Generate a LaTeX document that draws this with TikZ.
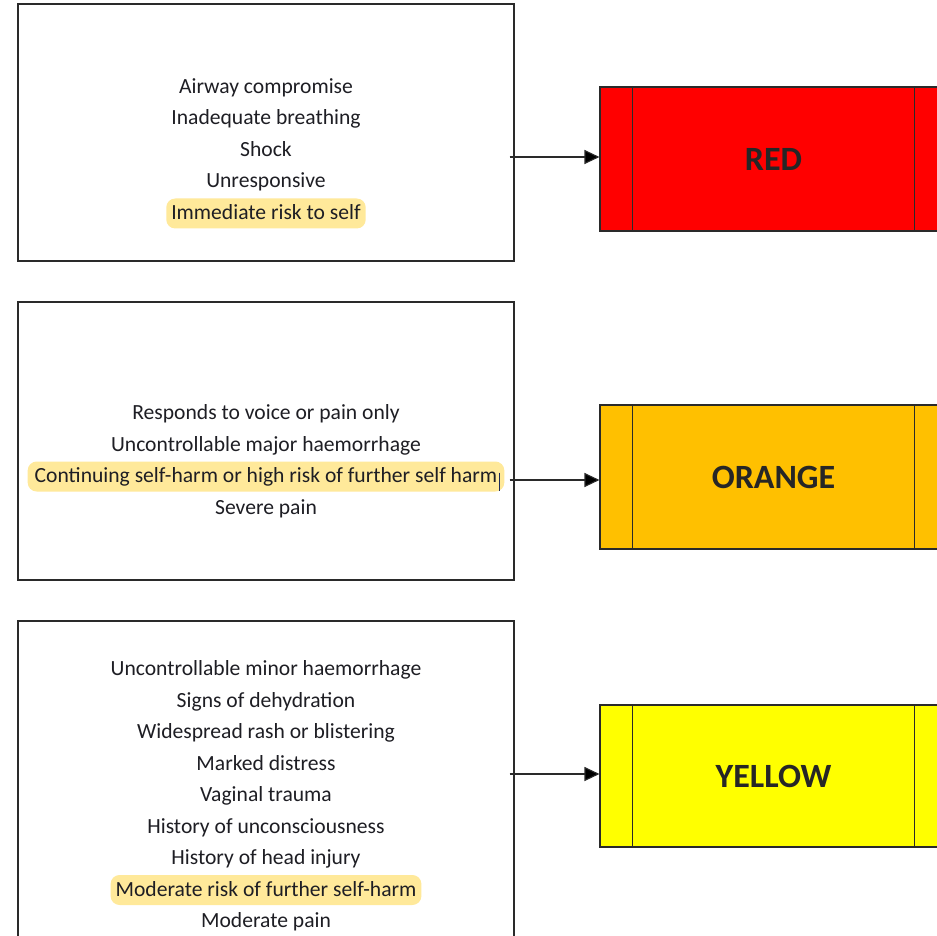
\documentclass[tikz,border=0pt]{standalone}
\usepackage{fontspec}
\setmainfont{Carlito}
\usetikzlibrary{arrows.meta}
\definecolor{txt}{HTML}{1E1E24}
\definecolor{lbl}{HTML}{262626}
\definecolor{boxline}{HTML}{2A2A2A}
\definecolor{hlc}{HTML}{FFE99A}
\definecolor{cred}{HTML}{FF0000}
\definecolor{corange}{HTML}{FFC000}
\definecolor{cyellow}{HTML}{FFFF00}
\definecolor{cursorc}{HTML}{1C2A5A}
\tikzset{
  critbox/.style={draw=boxline, line width=1.1pt, rectangle, minimum width=496pt, inner sep=0pt},
  levelbox/.style={draw=boxline, line width=1.1pt, rectangle, minimum width=347pt, inner sep=0pt,
    font=\bfseries\fontsize{34}{40}\selectfont, text=lbl},
  ln/.style={font=\fontsize{21.6}{26}\selectfont, text=txt, anchor=base, text height=16pt, text depth=4pt,
    inner ysep=5pt, inner xsep=5pt},
  hl/.style={ln, fill=hlc, rounded corners=9pt},
  arr/.style={draw=boxline, line width=1.1pt, -{Triangle[length=15pt,width=14pt,fill=black]}},
  sep/.style={draw=boxline, line width=1.1pt}
}
\begin{document}
\begin{tikzpicture}[x=1pt,y=-1pt]
\useasboundingbox (0,0) rectangle (937,936);
\clip (0,0) rectangle (937,936);
\fill[white] (0,0) rectangle (937,936);

% left boxes
\node[critbox, minimum height=257pt] (c1) at (266,132.5) {};
\node[critbox, minimum height=278pt] (c2) at (266,441) {};
\node[critbox, minimum height=330pt] (c3) at (266,786) {};

% level boxes
\node[levelbox, fill=cred, minimum height=144pt] (r1) at (773.5,159) {RED};
\node[levelbox, fill=corange, minimum height=144pt] (r2) at (773.5,477) {ORANGE};
\node[levelbox, fill=cyellow, minimum height=142pt] (r3) at (773.5,776) {YELLOW};
\foreach \r in {r1,r2,r3}{
  \draw[sep] ([xshift=33pt]\r.north west) -- ([xshift=33pt]\r.south west);
  \draw[sep] ([xshift=-33pt]\r.north east) -- ([xshift=-33pt]\r.south east);
}

% texts box 1
\node[ln] (a1) at (266,93.5) {Airway compromise};
\node[ln] (a2) at (266,125) {Inadequate breathing};
\node[ln] (a3) at (266,156.5) {Shock};
\node[ln] (a4) at (266,188) {Unresponsive};
\node[hl] (a5) at (266,219.5) {Immediate risk to self};

% texts box 2
\node[ln] (b1) at (266,419.5) {Responds to voice or pain only};
\node[ln] (b2) at (266,451) {Uncontrollable major haemorrhage};
\node[hl, inner xsep=7pt] (b3) at (266,482.5) {Continuing self-harm or high risk of further self harm};
\draw[cursorc, line width=1.2pt] ([xshift=-5pt,yshift=4pt]b3.east) -- ([xshift=-5pt,yshift=-14pt]b3.east);
\node[ln] (b4) at (266,514) {Severe pain};

% texts box 3
\node[ln] (y1) at (266,675.5) {Uncontrollable minor haemorrhage};
\node[ln] (y2) at (266,707) {Signs of dehydration};
\node[ln] (y3) at (266,738.5) {Widespread rash or blistering};
\node[ln] (y4) at (266,770) {Marked distress};
\node[ln] (y5) at (266,801.5) {Vaginal trauma};
\node[ln] (y6) at (266,833) {History of unconsciousness};
\node[ln] (y7) at (266,864.5) {History of head injury};
\node[hl] (y8) at (266,896) {Moderate risk of further self-harm};
\node[ln] (y9) at (266,927.5) {Moderate pain};

% arrows
\draw[arr] ([xshift=-5pt,yshift=2pt]c1.east |- r1.west) -- ([yshift=2pt]r1.west);
\draw[arr] ([xshift=-5pt,yshift=-3pt]c2.east |- r2.west) -- ([yshift=-3pt]r2.west);
\draw[arr] ([xshift=-5pt,yshift=2pt]c3.east |- r3.west) -- ([yshift=2pt]r3.west);
\end{tikzpicture}
\end{document}
